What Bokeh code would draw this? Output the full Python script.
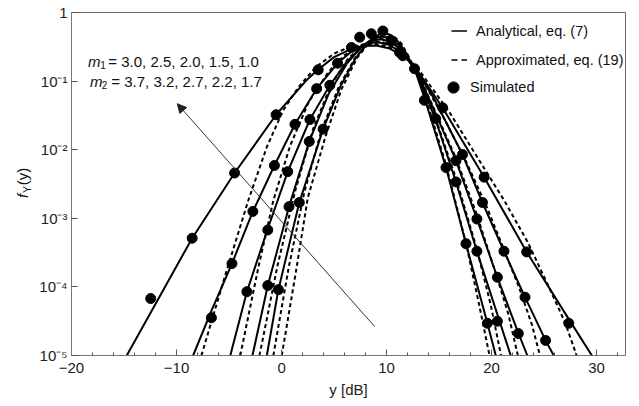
import numpy as np
from bokeh.plotting import figure
from bokeh.layouts import row
from bokeh.core.properties import value
from bokeh.models import (Range1d, FixedTicker, Label, Arrow, NormalHead,
                          Legend, LegendItem)
from bokeh.embed import file_html
from bokeh.resources import INLINE

# ---------------- data (x in dB, density given as log10 values) ----------------
# Analytical, eq. (7)  -- solid curves, widest (m1=1.0) to narrowest (m1=3.0)
s1_x = [-14.74, -11.1, -8.51, -4.47, -0.52, 2.3, 3.34, 5.0, 6.5, 8.0, 9.0, 10.2, 11.2, 12.0, 12.94, 15.34, 19.29, 23.34, 27.35, 29.55]
s1_lg = [-5.0, -4.0, -3.29, -2.34, -1.49, -1.0, -0.85, -0.65, -0.54, -0.49, -0.48, -0.52, -0.60, -0.69, -0.845, -1.39, -2.40, -3.49, -4.47, -5.0]
s2_x = [-8.42, -6.68, -4.72, -2.73, -0.68, 1.28, 3.34, 5.33, 6.8, 8.0, 9.1, 10.2, 11.2, 12.0, 13.0, 14.5, 17.23, 19.13, 21.18, 23.18, 25.14, 25.92]
s2_lg = [-5.0, -4.35, -3.66, -2.90, -2.23, -1.63, -1.11, -0.74, -0.55, -0.46, -0.43, -0.47, -0.56, -0.68, -0.88, -1.25, -2.07, -2.77, -3.48, -4.15, -4.78, -5.0]
s3_x = [-4.88, -3.30, -1.33, 0.59, 2.70, 4.6, 6.2, 7.5, 8.5, 9.4, 10.3, 11.2, 12.0, 13.0, 14.6, 16.61, 18.60, 20.55, 22.54, 23.4]
s3_lg = [-5.0, -4.07, -3.16, -2.32, -1.56, -1.06, -0.72, -0.52, -0.42, -0.39, -0.42, -0.52, -0.67, -0.90, -1.45, -2.16, -3.01, -3.86, -4.67, -5.0]
s4_x = [-2.77, -1.31, 0.71, 2.64, 4.5, 6.2, 7.6, 8.7, 9.6, 10.5, 11.3, 12.0, 13.0, 14.64, 16.61, 18.60, 20.55, 21.82]
s4_lg = [-5.0, -3.98, -2.83, -1.88, -1.18, -0.75, -0.50, -0.38, -0.35, -0.39, -0.50, -0.66, -0.93, -1.55, -2.47, -3.48, -4.40, -5.0]
s5_x = [-1.40, -0.30, 1.69, 3.96, 5.6, 7.0, 8.0, 9.0, 9.8, 10.6, 11.3, 12.0, 12.8, 13.6, 15.66, 17.56, 19.60, 20.40]
s5_lg = [-5.0, -4.04, -2.77, -1.70, -1.08, -0.68, -0.47, -0.34, -0.29, -0.35, -0.46, -0.63, -0.88, -1.24, -2.26, -3.37, -4.53, -5.0]

# Approximated, eq. (19)  -- dashed curves
d1_x = [-7.63, -5.5, -3.17, -1.4, 0.14, 1.6, 3.3, 5.0, 6.5, 8.0, 9.0, 10.2, 11.2, 12.0, 13.0, 15.97, 18.6, 21.2, 23.45, 25.45, 27.0, 28.1]
d1_lg = [-5.0, -3.9, -2.74, -1.96, -1.43, -1.09, -0.79, -0.60, -0.50, -0.46, -0.46, -0.50, -0.58, -0.67, -0.82, -1.45, -2.10, -2.74, -3.35, -4.0, -4.52, -5.0]
d2_x = [-3.93, -2.2, -0.78, 0.8, 2.6, 4.5, 6.0, 7.5, 8.7, 9.6, 10.6, 11.5, 12.2, 13.0, 15.5, 17.5, 19.5, 21.3, 22.6, 23.84, 24.6]
d2_lg = [-5.0, -3.71, -2.74, -1.95, -1.3, -0.86, -0.62, -0.48, -0.43, -0.43, -0.49, -0.59, -0.71, -0.87, -1.55, -2.15, -2.82, -3.5, -4.0, -4.55, -5.0]
d3_x = [-2.1, -0.4, 1.3, 3.0, 4.7, 6.3, 7.6, 8.6, 9.4, 10.3, 11.2, 12.0, 13.0, 14.6, 16.6, 18.6, 20.5, 21.6, 22.5]
d3_lg = [-5.0, -3.7, -2.6, -1.7, -1.06, -0.68, -0.49, -0.40, -0.38, -0.41, -0.51, -0.66, -0.90, -1.43, -2.12, -2.95, -3.85, -4.4, -5.0]
d4_x = [-0.78, 0.7, 2.2, 3.8, 5.4, 7.0, 8.2, 9.1, 9.8, 10.6, 11.4, 12.0, 13.0, 14.64, 16.61, 18.6, 19.9, 20.9]
d4_lg = [-5.0, -3.7, -2.6, -1.72, -1.1, -0.66, -0.46, -0.37, -0.34, -0.38, -0.49, -0.63, -0.92, -1.53, -2.42, -3.45, -4.25, -5.0]
d5_x = [0.02, 1.4, 2.5, 4.2, 5.7, 7.2, 8.3, 9.2, 9.9, 10.7, 11.4, 12.0, 12.8, 13.6, 15.66, 17.56, 18.8, 19.8]
d5_lg = [-5.0, -3.75, -2.7, -1.80, -1.12, -0.66, -0.45, -0.34, -0.30, -0.35, -0.45, -0.61, -0.87, -1.18, -2.22, -3.36, -4.25, -5.0]

# Simulated points
sim_x = [-12.46, -8.51, -6.68, -4.72, -2.73, -4.47, -0.68, -0.52, 1.28, 3.34, 3.49, 5.33,
         -3.30, -1.31, 0.59, 2.70, 4.60, -1.31, 0.71, 2.64, -0.30, 1.69, 3.96,
         6.65, 7.44, 8.55, 9.65, 10.45, 11.23, 11.55, 12.66,
         13.60, 14.67, 15.34, 15.66, 16.61, 17.23, 16.61, 19.29, 19.13, 18.60, 17.56,
         18.60, 21.18, 23.34, 20.55, 23.18, 19.60, 20.55, 22.54, 25.14, 27.35]
sim_lg = [-4.17, -3.29, -4.45, -3.66, -2.90, -2.34, -2.23, -1.49, -1.63, -1.11, -0.835, -0.74,
          -4.07, -3.17, -2.32, -1.56, -1.06, -3.98, -2.83, -1.88, -4.04, -2.77, -1.70,
          -0.51, -0.36, -0.31, -0.27, -0.41, -0.58, -0.63, -0.82,
          -1.28, -1.55, -1.39, -2.26, -2.16, -2.07, -2.47, -2.40, -2.77, -3.01, -3.37,
          -3.48, -3.48, -3.49, -3.86, -4.15, -4.53, -4.50, -4.68, -4.78, -4.53]

x_ticks = [-20, -10, 0, 10, 20, 30]
x_tick_labels = ["\u221220", "\u221210", "0", "10", "20", "30"]
x_minor = [-18, -16, -14, -12, -8, -6, -4, -2, 2, 4, 6, 8, 12, 14, 16, 18, 22, 24, 26, 28, 32]
y_ticks = [1e-5, 1e-4, 1e-3, 1e-2, 1e-1, 1]
y_tick_labels = ["10\u207b\u2075", "10\u207b\u2074", "10\u207b\u00b3", "10\u207b\u00b2", "10\u207b\u00b9", "1"]

FONT = "Liberation Sans"
TXT = "#111111"
H = 402
W_LAB = 36
FRAME_H = 343          # frame height shared (aligned) by both canvases of the row
FRAME_BOTTOM = 355.0   # page y of the frame bottom

# ---------------- y-axis title panel (separate narrow canvas) ----------------
yl = figure(width=W_LAB, height=H, x_range=Range1d(0, W_LAB), y_range=Range1d(0, FRAME_H),
            output_backend="svg", toolbar_location=None, min_border=0,
            min_border_top=12, min_border_bottom=47,
            x_axis_location=None, y_axis_location=None)
yl.grid.visible = False
yl.outline_line_color = None
yl_parts = ["f", "Y", "(y)"]
yl_cx = [24.0, 28.0, 24.0]       # centre of each piece on the page (x)
yl_cy = [195.5, 189.0, 176.0]    # centre of each piece on the page (y)
yl_sizes = ["15px", "10.5px", "15px"]
yl_styles = ["italic", "normal", "normal"]
for t, cx, cy, sz, st in zip(yl_parts, yl_cx, yl_cy, yl_sizes, yl_styles):
    yl.text(x=[cx - 2.0], y=[FRAME_BOTTOM - cy], text=[t], angle=np.pi / 2,
            text_font=value(FONT), text_font_size=value(sz), text_font_style=st,
            text_color=TXT, text_align="center", text_baseline="middle")

# ---------------- main plot ----------------
p = figure(width=594, height=H, x_range=Range1d(-20, 32.75), y_range=Range1d(1e-5, 1),
           y_axis_type="log", output_backend="svg", toolbar_location=None,
           min_border_left=32, min_border_right=5, min_border_top=12, min_border_bottom=47)
p.grid.visible = False
p.outline_line_color = "#666666"
p.background_fill_color = "white"

solid_sets = [(s1_x, s1_lg), (s2_x, s2_lg), (s3_x, s3_lg), (s4_x, s4_lg), (s5_x, s5_lg)]
dashed_sets = [(d1_x, d1_lg), (d2_x, d2_lg), (d3_x, d3_lg), (d4_x, d4_lg), (d5_x, d5_lg)]

for xs, lg in dashed_sets:
    p.line(xs, list(10.0 ** np.array(lg)), line_color="black", line_width=2, line_dash="4 3")
for xs, lg in solid_sets:
    p.line(xs, list(10.0 ** np.array(lg)), line_color="black", line_width=2)

sim = p.scatter(sim_x, list(10.0 ** np.array(sim_lg)), size=10, fill_color="black", line_color="black")

# legend proxies (a single NaN point, nothing drawn in the plot)
leg_solid = p.line([np.nan], [np.nan], line_color="black", line_width=1.5)
leg_dash = p.line([np.nan], [np.nan], line_color="black", line_width=1.5, line_dash="6 4")

leg1 = Legend(items=[LegendItem(label="Analytical, eq. (7)", renderers=[leg_solid]),
                     LegendItem(label="Approximated, eq. (19)", renderers=[leg_dash])],
              location=(380.0, 280.7), glyph_width=16, glyph_height=29, label_height=29,
              label_standoff=9, padding=0, margin=0, spacing=0,
              border_line_color=None, background_fill_alpha=0,
              label_text_font=FONT, label_text_font_size="14.5px", label_text_color=TXT)
leg2 = Legend(items=[LegendItem(label="Simulated", renderers=[sim])],
              location=(367.0, 254.3), glyph_width=30, glyph_height=28, label_height=28,
              label_standoff=2, padding=0, margin=0, spacing=0,
              border_line_color=None, background_fill_alpha=0,
              label_text_font=FONT, label_text_font_size="14.5px", label_text_color=TXT)
p.add_layout(leg1)
p.add_layout(leg2)

# axes
xa = p.xaxis[0]
xa.ticker = FixedTicker(ticks=x_ticks, minor_ticks=x_minor)
xa.major_label_overrides = dict(zip(x_ticks, x_tick_labels))
ya = p.yaxis[0]
ya.ticker = FixedTicker(ticks=y_ticks, minor_ticks=[])
ya.major_label_overrides = dict(zip(y_ticks, y_tick_labels))
for ax in (xa, ya):
    ax.axis_line_color = "#777777"
    ax.major_tick_line_color = "#555555"
    ax.minor_tick_line_color = "#555555"
    ax.major_tick_in = 6
    ax.major_tick_out = 0
    ax.minor_tick_in = 3
    ax.minor_tick_out = 0
    ax.major_label_text_font = FONT
    ax.major_label_text_font_size = "15px"
    ax.major_label_text_color = "#222222"
xa.major_label_standoff = 7
ya.major_label_standoff = 4
xa.axis_label = "y [dB]"
xa.axis_label_text_font = FONT
xa.axis_label_text_font_size = "15px"
xa.axis_label_text_font_style = "normal"
xa.axis_label_text_color = "#222222"
xa.axis_label_standoff = 5


# helpers to place in-plot text labels by page pixel
def dx(px):
    return -20 + (px - 70.5) / 10.55


def dy(py):
    return 10 ** (-(py - 12) / 68.6)


def lab(text, px, py, size, style="normal"):
    p.add_layout(Label(x=dx(px), y=dy(py), text=text, text_font=FONT, text_font_size=size,
                       text_font_style=style, text_color=TXT, text_align="left",
                       text_baseline="alphabetic"))


lab("m", 87.0, 60.5, "15px", "italic")
lab("1", 99.5, 64.0, "10px")
lab("= 3.0, 2.5, 2.0, 1.5, 1.0", 107.5, 60.5, "15px")
lab("m", 89.0, 81.0, "15px", "italic")
lab("2", 101.0, 84.5, "10px")
lab("= 3.7, 3.2, 2.7, 2.2, 1.7", 110.5, 81.0, "15px")

# arrow
p.add_layout(Arrow(end=NormalHead(size=9, fill_color="#222222", line_color="#222222", line_width=1),
                   x_start=8.86, y_start=10 ** -4.577, x_end=-9.93, y_end=10 ** -1.33,
                   line_color="#333333", line_width=1))

open("out.html", "w").write(file_html(row(yl, p), INLINE))
